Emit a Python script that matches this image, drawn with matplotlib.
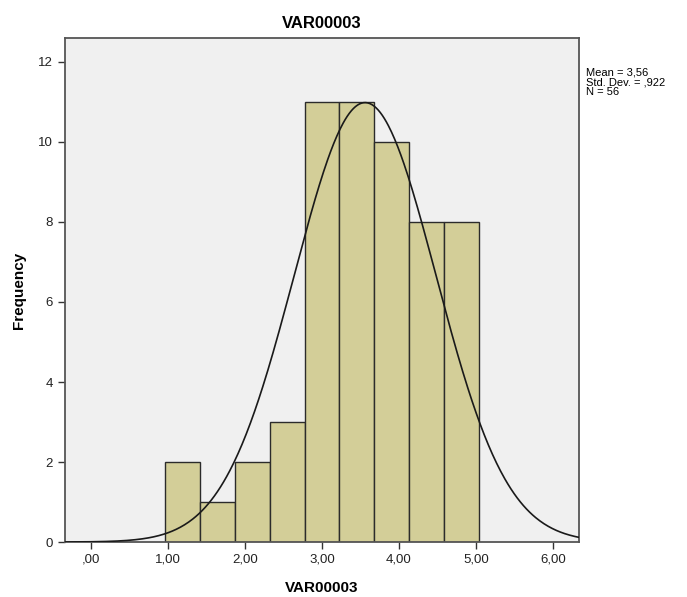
import numpy as np
import matplotlib
matplotlib.use("Agg")
import matplotlib.pyplot as plt

# Data
bin_edges = [0.96, 1.413, 1.867, 2.32, 2.773, 3.227, 3.68, 4.133, 4.587, 5.04]
counts = [2, 1, 2, 3, 11, 11, 10, 8, 8]
mean = 3.56
sd = 0.922
n = 56
x_ticks = [0, 1, 2, 3, 4, 5, 6]
x_tick_labels = [",00", "1,00", "2,00", "3,00", "4,00", "5,00", "6,00"]
y_ticks = [0, 2, 4, 6, 8, 10, 12]

plt.rcParams['font.family'] = ['Liberation Sans', 'DejaVu Sans']

fig = plt.figure(figsize=(6.87, 5.97), dpi=100)
ax = fig.add_axes([0.0946, 0.0921, 0.7482, 0.8443])
ax.set_facecolor('#F0F0F0')

widths = np.diff(bin_edges)
ax.bar(bin_edges[:-1], counts, width=widths, align='edge',
       color='#D3CE98', edgecolor='#2b2b2b', linewidth=1.0, zorder=2)

xs = np.linspace(-0.34, 6.34, 500)
bw = widths.mean()
ys = n * bw / (sd * np.sqrt(2 * np.pi)) * np.exp(-0.5 * ((xs - mean) / sd) ** 2)
ax.plot(xs, ys, color='#1a1a1a', linewidth=1.2, zorder=3)

ax.set_xlim(-0.34, 6.34)
ax.set_ylim(0, 12.6)
ax.set_xticks(x_ticks)
ax.set_xticklabels(x_tick_labels)
ax.set_yticks(y_ticks)
ax.tick_params(axis='both', labelsize=9.5, length=5, width=1, color='#333333', labelcolor='#222222')

for s in ax.spines.values():
    s.set_color('#555555')
    s.set_linewidth(1.3)

ax.set_title('VAR00003', fontsize=12, fontweight='bold', pad=7)
ax.set_xlabel('VAR00003', fontsize=11, fontweight='bold', labelpad=11)
ax.set_ylabel('Frequency', fontsize=11, fontweight='bold', labelpad=9)

fig.text(0.853, 0.887, 'Mean = 3,56\nStd. Dev. = ,922\nN = 56', fontsize=8,
         va='top', ha='left', linespacing=0.95)

fig.savefig('out.png', dpi=100)
